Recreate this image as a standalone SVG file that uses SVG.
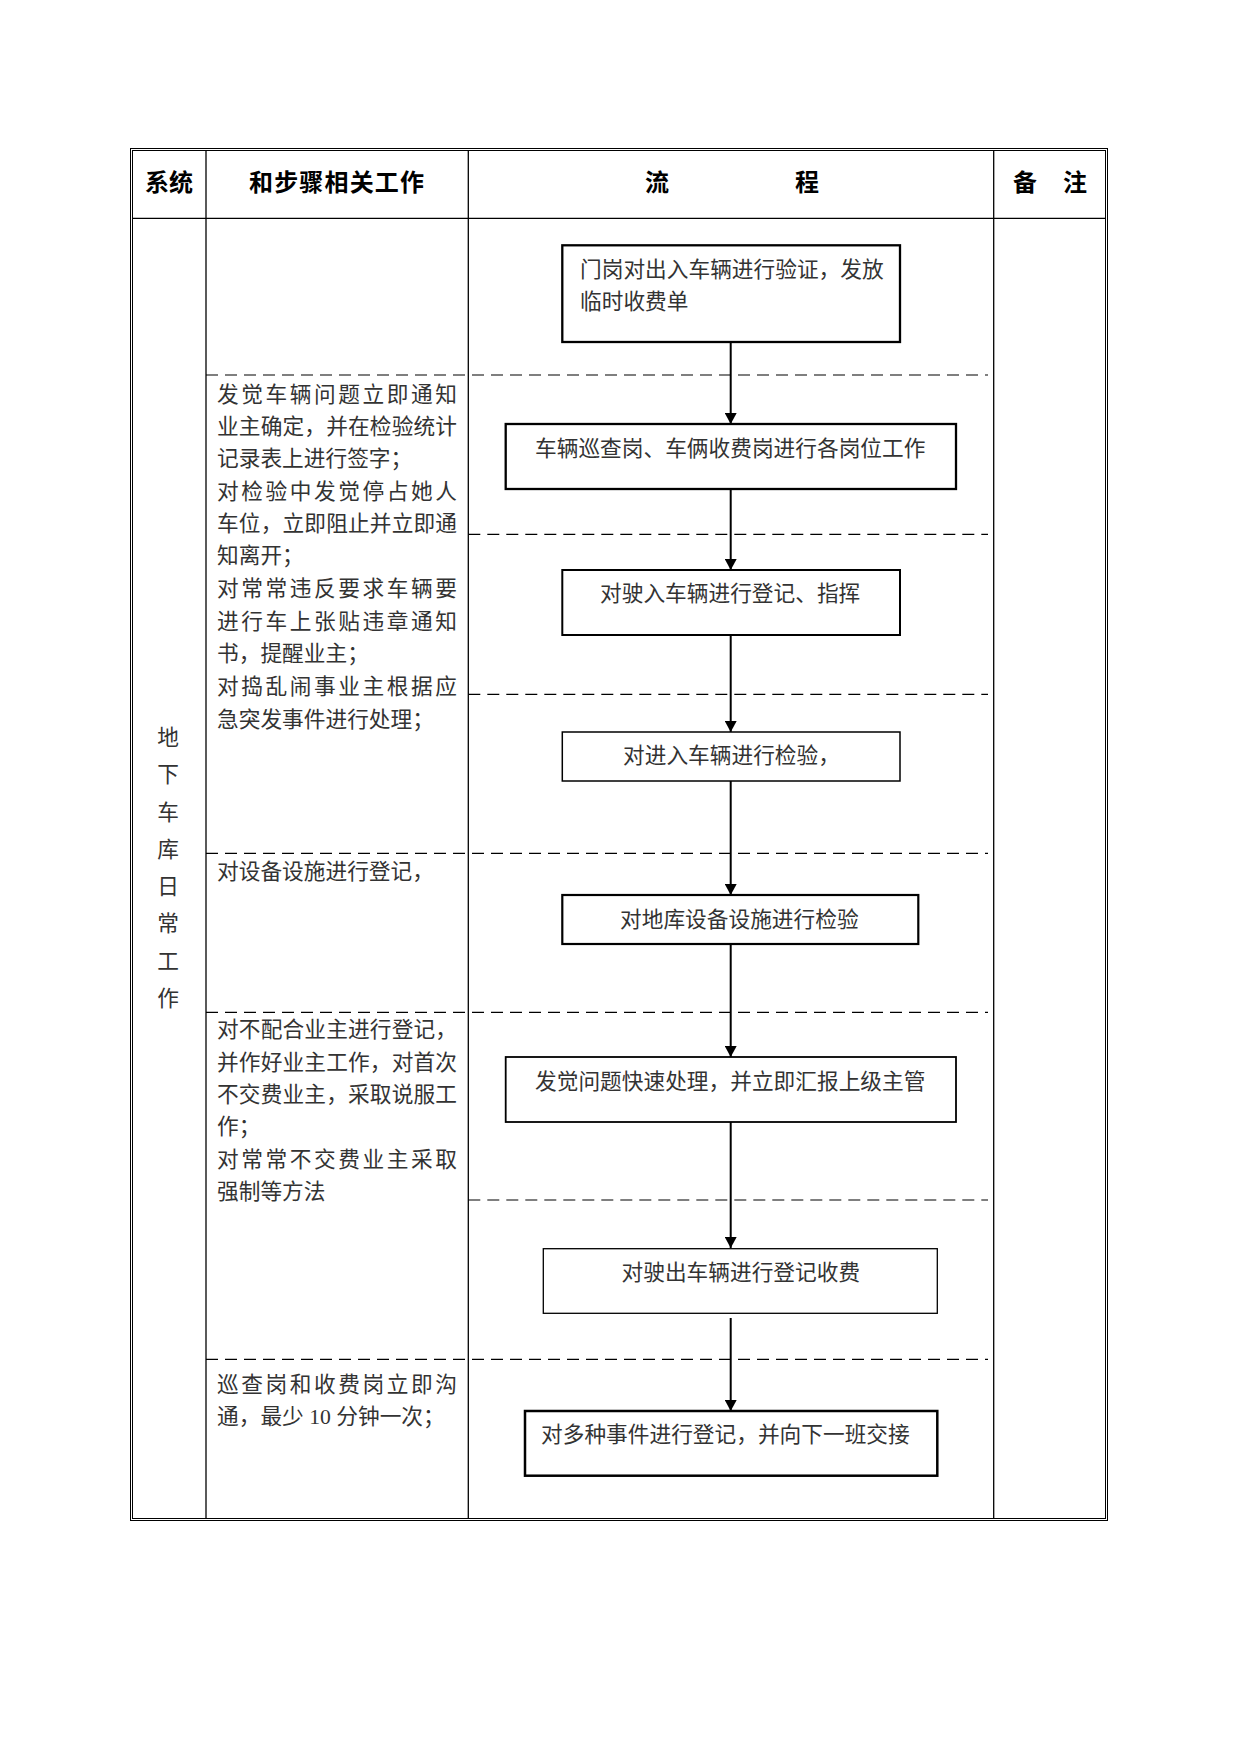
<svg xmlns="http://www.w3.org/2000/svg" width="1241" height="1754" viewBox="0 0 1241 1754">
<style>
.frame{fill:none;stroke:#000;stroke-width:1}
.grid{stroke:#000;stroke-width:1.3;fill:none}
.dash{stroke:#000;stroke-width:1.2;stroke-dasharray:12 7;fill:none}
.box{fill:#fff;stroke:#000}
.hd{font-family:"Noto Sans CJK SC","Liberation Sans",sans-serif;font-size:24px;font-weight:700;fill:#000}
.tx{font-family:"Noto Sans CJK SC","Liberation Serif",serif;font-size:21.7px;fill:#333}
.mix{font-family:"Liberation Serif","Noto Sans CJK SC",serif;font-size:21.7px;fill:#333}
.conn{stroke:#000;stroke-width:2;fill:none}
</style>
<defs>
<marker id="arrow" markerUnits="userSpaceOnUse" viewBox="0 0 11 12" markerWidth="11" markerHeight="12" refX="11" refY="6" orient="auto">
<path d="M0,0 L11,6 L0,12 z" fill="#000"/>
</marker>
</defs>
<rect width="1241" height="1754" fill="#fff"/>

<g id="table">
<rect class="frame" x="130.5" y="148.5" width="977" height="1372"/>
<rect class="frame" x="132.5" y="150.5" width="973" height="1368"/>
<line class="grid" x1="206" y1="150.5" x2="206" y2="1518.5"/>
<line class="grid" x1="468.3" y1="150.5" x2="468.3" y2="1518.5"/>
<line class="grid" x1="993.7" y1="150.5" x2="993.7" y2="1518.5"/>
<line class="grid" x1="132.5" y1="218.3" x2="1105.5" y2="218.3"/>
</g>

<g id="row-dividers">
<line class="dash" x1="206" y1="375" x2="988" y2="375"/>
<line class="dash" x1="468.3" y1="534.3" x2="988" y2="534.3"/>
<line class="dash" x1="468.3" y1="694.3" x2="988" y2="694.3"/>
<line class="dash" x1="206" y1="853.3" x2="988" y2="853.3"/>
<line class="dash" x1="206" y1="1012.3" x2="988" y2="1012.3"/>
<line class="dash" x1="468.3" y1="1200" x2="988" y2="1200"/>
<line class="dash" x1="206" y1="1359.3" x2="988" y2="1359.3"/>
</g>

<g id="header">
<text class="hd" x="145" y="191">系统</text>
<text class="hd" x="249" y="191" textLength="175" lengthAdjust="spacing">和步骤相关工作</text>
<text class="hd" x="645" y="191">流</text>
<text class="hd" x="795" y="191">程</text>
<text class="hd" x="1013" y="191">备</text>
<text class="hd" x="1063" y="191">注</text>
</g>

<g id="system-label">
<text class="tx" text-anchor="middle" x="168" y="745">地</text>
<text class="tx" text-anchor="middle" x="168" y="782">下</text>
<text class="tx" text-anchor="middle" x="168" y="820">车</text>
<text class="tx" text-anchor="middle" x="168" y="857">库</text>
<text class="tx" text-anchor="middle" x="168" y="894">日</text>
<text class="tx" text-anchor="middle" x="168" y="931">常</text>
<text class="tx" text-anchor="middle" x="168" y="969">工</text>
<text class="tx" text-anchor="middle" x="168" y="1006">作</text>
</g>

<g id="work-inspection">
<text class="tx" x="217" y="401.5" textLength="240" lengthAdjust="spacing">发觉车辆问题立即通知</text>
<text class="tx" x="217" y="433.5" textLength="240" lengthAdjust="spacing">业主确定，并在检验统计</text>
<text class="tx" x="217" y="466">记录表上进行签字；</text>
<text class="tx" x="217" y="498.5" textLength="240" lengthAdjust="spacing">对检验中发觉停占她人</text>
<text class="tx" x="217" y="531" textLength="240" lengthAdjust="spacing">车位，立即阻止并立即通</text>
<text class="tx" x="217" y="563">知离开；</text>
<text class="tx" x="217" y="595.5" textLength="240" lengthAdjust="spacing">对常常违反要求车辆要</text>
<text class="tx" x="217" y="628.5" textLength="240" lengthAdjust="spacing">进行车上张贴违章通知</text>
<text class="tx" x="217" y="661">书，提醒业主；</text>
<text class="tx" x="217" y="693.5" textLength="240" lengthAdjust="spacing">对捣乱闹事业主根据应</text>
<text class="tx" x="217" y="726.5">急突发事件进行处理；</text>
</g>

<g id="work-facilities">
<text class="tx" x="217" y="878.5">对设备设施进行登记，</text>
</g>

<g id="work-fees">
<text class="tx" x="217" y="1036.5" textLength="240" lengthAdjust="spacing">对不配合业主进行登记，</text>
<text class="tx" x="217" y="1070" textLength="240" lengthAdjust="spacing">并作好业主工作，对首次</text>
<text class="tx" x="217" y="1101.5" textLength="240" lengthAdjust="spacing">不交费业主，采取说服工</text>
<text class="tx" x="217" y="1133.5">作；</text>
<text class="tx" x="217" y="1166.5" textLength="240" lengthAdjust="spacing">对常常不交费业主采取</text>
<text class="tx" x="217" y="1199">强制等方法</text>
</g>

<g id="work-handover">
<text class="tx" x="217" y="1391.5" textLength="240" lengthAdjust="spacing">巡查岗和收费岗立即沟</text>
<text class="mix" x="217" y="1423.5" xml:space="preserve">通，最少 10 分钟一次；</text>
</g>

<g id="connectors">
<line class="conn" x1="730.7" y1="342" x2="730.7" y2="424" marker-end="url(#arrow)"/>
<line class="conn" x1="730.7" y1="489" x2="730.7" y2="570" marker-end="url(#arrow)"/>
<line class="conn" x1="730.7" y1="635" x2="730.7" y2="732" marker-end="url(#arrow)"/>
<line class="conn" x1="730.7" y1="781" x2="730.7" y2="895" marker-end="url(#arrow)"/>
<line class="conn" x1="730.7" y1="944" x2="730.7" y2="1057" marker-end="url(#arrow)"/>
<line class="conn" x1="730.7" y1="1122" x2="730.7" y2="1248" marker-end="url(#arrow)"/>
<line class="conn" x1="730.7" y1="1318" x2="730.7" y2="1411" marker-end="url(#arrow)"/>
</g>

<g id="step1">
<rect class="box" x="562.3" y="245.3" width="337.7" height="96.7" stroke-width="2.3"/>
<text class="tx" x="580" y="276.5">门岗对出入车辆进行验证，发放</text>
<text class="tx" x="580" y="308.5">临时收费单</text>
</g>
<g id="step2">
<rect class="box" x="505.7" y="424" width="450.3" height="65" stroke-width="2.3"/>
<text class="tx" x="535" y="455.5">车辆巡查岗、车俩收费岗进行各岗位工作</text>
</g>
<g id="step3">
<rect class="box" x="562.3" y="570" width="337.7" height="65" stroke-width="2"/>
<text class="tx" x="600" y="600.5">对驶入车辆进行登记、指挥</text>
</g>
<g id="step4">
<rect class="box" x="562.3" y="732" width="337.7" height="49" stroke-width="1.5"/>
<text class="tx" x="623" y="762.5">对进入车辆进行检验，</text>
</g>
<g id="step5">
<rect class="box" x="562.3" y="895" width="356" height="49" stroke-width="2.2"/>
<text class="tx" x="620" y="926.5">对地库设备设施进行检验</text>
</g>
<g id="step6">
<rect class="box" x="505.7" y="1057" width="450.3" height="65" stroke-width="1.8"/>
<text class="tx" x="535" y="1088.5">发觉问题快速处理，并立即汇报上级主管</text>
</g>
<g id="step7">
<rect class="box" x="543.3" y="1248.7" width="394" height="64.6" stroke-width="1.3"/>
<text class="tx" x="621.5" y="1280">对驶出车辆进行登记收费</text>
</g>
<g id="step8">
<rect class="box" x="525" y="1411" width="412.3" height="64.7" stroke-width="2.5"/>
<text class="tx" x="541" y="1441.5">对多种事件进行登记，并向下一班交接</text>
</g>
</svg>
